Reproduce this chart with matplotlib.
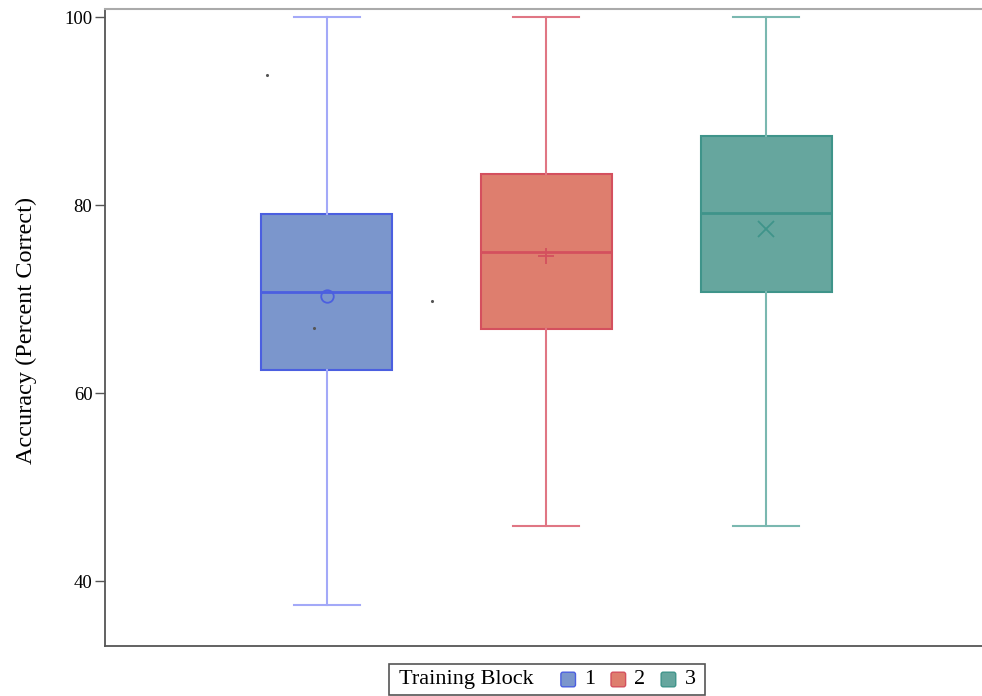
import matplotlib
matplotlib.use("Agg")
import matplotlib.pyplot as plt
from matplotlib.offsetbox import TextArea, DrawingArea, HPacker, AnchoredOffsetbox
from matplotlib.patches import FancyBboxPatch

plt.rcParams['font.family'] = ['Liberation Serif', 'DejaVu Serif']

blocks = ["1", "2", "3"]
whislo = [37.5, 45.9, 45.9]
q1 = [62.5, 66.8, 70.8]
med = [70.8, 75.0, 79.2]
q3 = [79.1, 83.3, 87.4]
whishi = [100.0, 100.0, 100.0]
means = [70.4, 74.6, 77.5]
mean_markers = ["o", "+", "x"]
stray_x = [0.73, 0.94, 1.48]
stray_y = [93.9, 67.0, 69.8]

fills = ["#7b96cc", "#de7e6e", "#66a69e"]
edges = ["#4b5fe0", "#d4505e", "#3f948a"]
whisk = ["#a3a9f8", "#e07684", "#7ab8b0"]

fig = plt.figure(figsize=(9.82, 6.96), dpi=100)
ax_w = 1 - 105/982 + 0.01
ax = fig.add_axes([105/982, 1-646/696, ax_w, (646-9)/696])

pos = [1, 2, 3]
for i in range(3):
    st = [dict(med=med[i], q1=q1[i], q3=q3[i], whislo=whislo[i], whishi=whishi[i], fliers=[], label=blocks[i])]
    ax.bxp(st, positions=[pos[i]], widths=0.595, patch_artist=True, showfliers=False,
           boxprops=dict(facecolor=fills[i], edgecolor=edges[i], linewidth=1.5),
           medianprops=dict(color=edges[i], linewidth=2),
           whiskerprops=dict(color=whisk[i], linewidth=1.5),
           capprops=dict(color=whisk[i], linewidth=1.5),
           capwidths=0.3, manage_ticks=False, zorder=2)
    mk = mean_markers[i]
    if mk == "o":
        ax.plot(pos[i], means[i], marker="o", ms=9, mfc="none", mec=edges[i], mew=1.3, zorder=3)
    else:
        ax.plot(pos[i], means[i], marker=mk, ms=11, color=edges[i], mew=1.3, zorder=3)

ax.scatter(stray_x, stray_y, s=1.5, color="#555555", zorder=3)

ax.set_xlim(-0.009, 3.977 + 0.05)
ax.set_ylim(33.1, 100.9)
ax.set_xticks([])
ax.set_yticks([40, 60, 80, 100])
ax.tick_params(axis='y', labelsize=13.5, length=7.5, pad=1.5, color="#555555", width=1)
ax.set_ylabel("Accuracy (Percent Correct)", fontsize=17.5)
ax.yaxis.set_label_coords(-68/(ax_w*982), 0.496)
for s in ["left", "bottom"]:
    ax.spines[s].set_color("#555555")
    ax.spines[s].set_linewidth(1.3)
ax.spines["top"].set_color("#aaaaaa")
ax.spines["top"].set_linewidth(1.5)
ax.spines["right"].set_visible(False)

# legend
pt = 72/100.0
sq = 16*pt
entries = []
for i in range(3):
    da = DrawingArea(sq, sq, 0, 0)
    da.add_artist(FancyBboxPatch((0.5, 0.5), sq-1, sq-1, boxstyle="round,pad=0,rounding_size=1.5",
                                 facecolor=fills[i], edgecolor=edges[i], linewidth=1))
    entries.append(HPacker(children=[da, TextArea(blocks[i], textprops=dict(fontsize=16))],
                           sep=8*pt, align="center", pad=0))
group = HPacker(children=entries, sep=15*pt, align="center", pad=0)
box = HPacker(children=[TextArea("Training Block", textprops=dict(fontsize=16)), group],
              sep=27*pt, align="center", pad=0)
outer = HPacker(children=[DrawingArea(4*pt, 1), box, DrawingArea(4*pt, 1)], sep=0,
                align="center", pad=0)
anch = AnchoredOffsetbox(loc="center", child=outer, pad=0.42, frameon=True,
                         bbox_to_anchor=(547/982, 1-679.5/696), bbox_transform=fig.transFigure,
                         borderpad=0)
anch.patch.set_edgecolor("#555555")
anch.patch.set_linewidth(1.2)
anch.patch.set_boxstyle("square,pad=0")
fig.add_artist(anch)

fig.savefig("out.png", dpi=100)
